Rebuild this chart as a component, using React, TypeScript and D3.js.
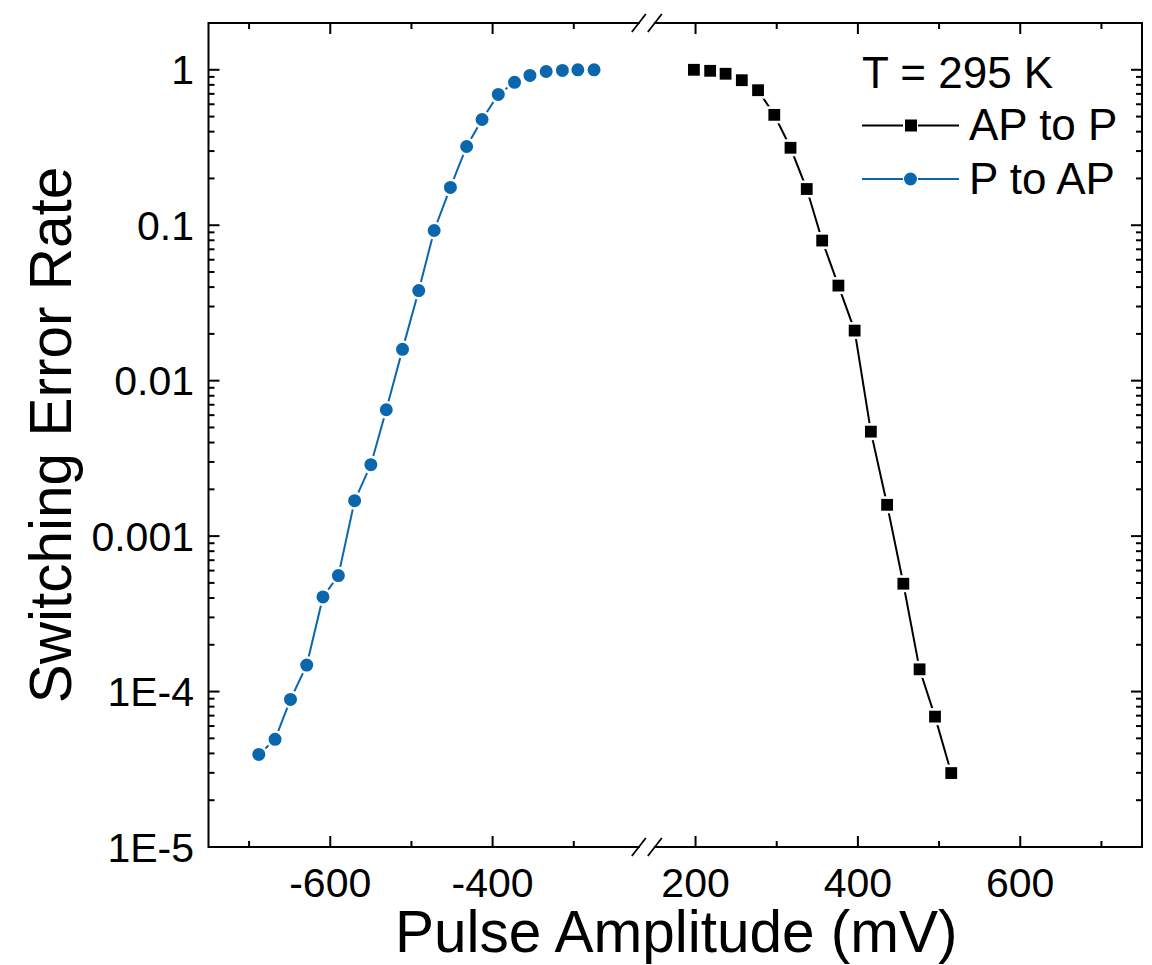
import React, { useEffect, useRef } from "react";
import * as d3 from "d3";

// P to AP (blue circles)
const pToApVoltage = [-688, -668, -649, -629, -609, -590, -570, -550, -531, -511, -491, -472, -452, -432, -413, -393, -373, -354, -334, -314, -295, -275];
const pToApRate = [3.94e-5, 4.93e-5, 8.9e-5, 1.48e-4, 4.06e-4, 5.57e-4, 1.69e-3, 2.88e-3, 6.5e-3, 0.0159, 0.038, 0.0925, 0.175, 0.321, 0.479, 0.694, 0.83, 0.92, 0.975, 0.99, 1.0, 1.0];

// AP to P (black squares)
const apToPVoltage = [198, 218, 237, 257, 277, 297, 317, 337, 356, 376, 396, 416, 436, 456, 476, 495, 515];
const apToPRate = [1.0, 0.985, 0.943, 0.857, 0.739, 0.513, 0.315, 0.171, 0.0797, 0.0409, 0.021, 0.0047, 0.00159, 4.94e-4, 1.39e-4, 6.9e-5, 2.99e-5];

const yTickValues = [1e-5, 1e-4, 1e-3, 1e-2, 0.1, 1];
const yTickLabels = ["1E-5", "1E-4", "0.001", "0.01", "0.1", "1"];
const leftMajor = [-600, -400];
const leftMinor = [-700, -500, -300];
const rightMajor = [200, 400, 600];
const rightMinor = [300, 500, 700];

const FONT = "'Liberation Sans', Arial, Helvetica, sans-serif";
const BLUE = "#0a67ad";

export default function App() {
    const ref = useRef<SVGSVGElement | null>(null);

    useEffect(() => {
        const svg = d3.select(ref.current);
        svg.selectAll("*").remove();

        const left = 208.5, right = 1142, top = 23, bottom = 847;
        const leftDomain = [-750, -210];
        const rightDomain = [140, 750];
        const k = (right - left) / ((leftDomain[1] - leftDomain[0]) + (rightDomain[1] - rightDomain[0]));
        const breakX = left + (leftDomain[1] - leftDomain[0]) * k;

        const xLeft = d3.scaleLinear().domain(leftDomain).range([left, breakX]);
        const xRight = d3.scaleLinear().domain(rightDomain).range([breakX, right]);
        const y = d3.scaleLog().domain([1e-5, 2]).range([bottom, top]);

        // ==========================
        // Frame with break
        // ==========================
        const frame = svg.append("g").attr("stroke", "#000").attr("stroke-width", 2).attr("fill", "none");
        const gapL = breakX - 7, gapR = breakX + 7;
        [top, bottom].forEach(yy => {
            frame.append("line").attr("x1", left).attr("x2", gapL).attr("y1", yy).attr("y2", yy);
            frame.append("line").attr("x1", gapR).attr("x2", right).attr("y1", yy).attr("y2", yy);
            [-8, 8].forEach(dx => {
                frame.append("line")
                    .attr("x1", breakX + dx - 7).attr("y1", yy + 9)
                    .attr("x2", breakX + dx + 7).attr("y2", yy - 9)
                    .attr("stroke-width", 1.8);
            });
        });
        frame.append("line").attr("x1", left).attr("x2", left).attr("y1", top - 1).attr("y2", bottom + 1);
        frame.append("line").attr("x1", right).attr("x2", right).attr("y1", top - 1).attr("y2", bottom + 1);

        // ==========================
        // Ticks
        // ==========================
        const ticks = svg.append("g").attr("stroke", "#000").attr("stroke-width", 2);
        const xMaj = [...leftMajor.map(v => xLeft(v)), ...rightMajor.map(v => xRight(v))];
        const xMin = [...leftMinor.map(v => xLeft(v)), ...rightMinor.map(v => xRight(v))];
        xMaj.forEach(px => {
            ticks.append("line").attr("x1", px).attr("x2", px).attr("y1", bottom).attr("y2", bottom - 11);
            ticks.append("line").attr("x1", px).attr("x2", px).attr("y1", top).attr("y2", top + 11);
        });
        xMin.forEach(px => {
            ticks.append("line").attr("x1", px).attr("x2", px).attr("y1", bottom).attr("y2", bottom - 6);
            ticks.append("line").attr("x1", px).attr("x2", px).attr("y1", top).attr("y2", top + 6);
        });
        yTickValues.forEach(v => {
            const py = y(v);
            ticks.append("line").attr("x1", left).attr("x2", left + 11).attr("y1", py).attr("y2", py);
            ticks.append("line").attr("x1", right).attr("x2", right - 11).attr("y1", py).attr("y2", py);
            if (v < 1) {
                d3.range(2, 10).forEach(m => {
                    const pm = y(v * m);
                    ticks.append("line").attr("x1", left).attr("x2", left + 6).attr("y1", pm).attr("y2", pm);
                    ticks.append("line").attr("x1", right).attr("x2", right - 6).attr("y1", pm).attr("y2", pm);
                });
            }
        });

        // ==========================
        // Tick labels
        // ==========================
        const labels = svg.append("g").attr("font-family", FONT).attr("font-size", 41).attr("fill", "#000");
        [...leftMajor.map(v => [xLeft(v), v]), ...rightMajor.map(v => [xRight(v), v])].forEach(([px, v]) => {
            labels.append("text").attr("x", px).attr("y", 897).attr("text-anchor", "middle").text(String(v));
        });
        yTickValues.forEach((v, i) => {
            labels.append("text").attr("x", 194).attr("y", y(v) + 14.5).attr("text-anchor", "end").text(yTickLabels[i]);
        });

        // ==========================
        // Axis titles
        // ==========================
        svg.append("text")
            .attr("x", (left + right) / 2 + 1).attr("y", 952)
            .attr("text-anchor", "middle").attr("font-family", FONT).attr("font-size", 58.5)
            .text("Pulse Amplitude (mV)");
        svg.append("text")
            .attr("transform", `translate(71, ${(top + bottom) / 2}) rotate(-90)`)
            .attr("text-anchor", "middle").attr("font-family", FONT).attr("font-size", 58.5)
            .text("Switching Error Rate");

        // ==========================
        // Series
        // ==========================
        const blue = pToApVoltage.map((v, i) => [xLeft(v), y(pToApRate[i])] as [number, number]);
        const black = apToPVoltage.map((v, i) => [xRight(v), y(apToPRate[i])] as [number, number]);
        const line = d3.line();

        svg.append("path").attr("d", line(blue)).attr("fill", "none").attr("stroke", BLUE).attr("stroke-width", 2);
        svg.append("path").attr("d", line(black)).attr("fill", "none").attr("stroke", "#000").attr("stroke-width", 2);

        svg.append("g").selectAll("circle").data(blue).enter().append("circle")
            .attr("cx", d => d[0]).attr("cy", d => d[1]).attr("r", 7.8)
            .attr("fill", BLUE).attr("stroke", "#fff").attr("stroke-width", 2.6);
        svg.append("g").selectAll("rect").data(black).enter().append("rect")
            .attr("x", d => d[0] - 7.2).attr("y", d => d[1] - 7.2).attr("width", 14.4).attr("height", 14.4)
            .attr("fill", "#000").attr("stroke", "#fff").attr("stroke-width", 2.6);

        // ==========================
        // Legend
        // ==========================
        const legend = svg.append("g").attr("font-family", FONT).attr("font-size", 44);
        legend.append("text").attr("x", 862).attr("y", 88).text("T = 295 K");
        const items = [
            { label: "AP to P", color: "#000", shape: "square", y: 125.5 },
            { label: "P to AP", color: BLUE, shape: "circle", y: 179 }
        ];
        items.forEach(it => {
            legend.append("line").attr("x1", 862).attr("x2", 903).attr("y1", it.y).attr("y2", it.y)
                .attr("stroke", it.color).attr("stroke-width", 2);
            legend.append("line").attr("x1", 918).attr("x2", 959).attr("y1", it.y).attr("y2", it.y)
                .attr("stroke", it.color).attr("stroke-width", 2);
            if (it.shape === "square") {
                legend.append("rect").attr("x", 905).attr("y", it.y - 6).attr("width", 12).attr("height", 12).attr("fill", it.color);
            } else {
                legend.append("circle").attr("cx", 910.5).attr("cy", it.y).attr("r", 6.5).attr("fill", it.color);
            }
            legend.append("text").attr("x", 969).attr("y", it.y + 14.5).text(it.label);
        });
    }, []);

    return (
        <svg ref={ref} width={1152} height={965}
            style={{ position: "absolute", left: 0, top: 0, background: "#fff" }} />
    );
}
